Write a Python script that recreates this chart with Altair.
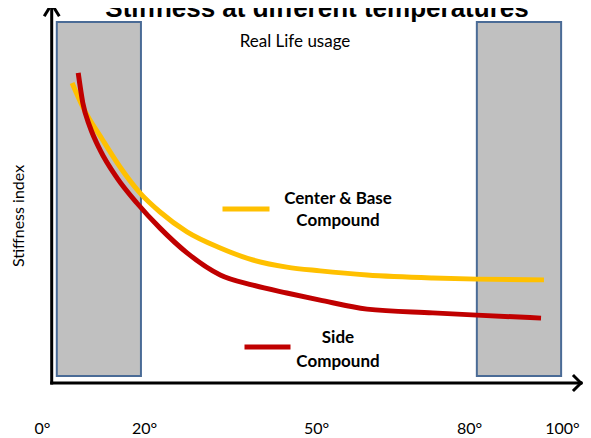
import altair as alt
import pandas as pd

# ---- data ----
tick_temps = [0, 20, 50, 80, 100]

zone_start = [2.9, 81.6]
zone_end = [19.4, 98.8]
zone_low = [1.9, 1.9]
zone_high = [96.3, 96.3]

center_temp = [5.9, 8.0, 11.9, 15.3, 19.2, 22.8, 27.5, 33.3, 39.0, 44.9, 50.8, 60.0, 72.9, 81.6, 95.3]
center_stiff = [80.0, 73.6, 64.8, 57.6, 50.7, 45.6, 40.3, 36.0, 32.8, 30.9, 29.9, 28.8, 28.0, 27.7, 27.5]

side_temp = [7.1, 8.0, 9.4, 11.4, 14.7, 18.6, 22.8, 27.5, 33.3, 39.0, 44.9, 50.8, 60.0, 72.9, 81.6, 94.7]
side_stiff = [82.7, 74.7, 68.3, 62.1, 54.7, 48.0, 41.3, 34.7, 28.8, 26.1, 24.0, 22.1, 19.7, 18.7, 18.1, 17.3]

title_text = "Stiffness at different temperatures"
usage_text = "Real Life usage"
y_title = "Stiffness index"
center_label = ["Center & Base", "Compound"]
side_label = ["Side", "Compound"]

YELLOW = "#FFC000"
RED = "#C00000"
FONT = "Lato"

W, H = 575, 375

xscale = alt.Scale(domain=tick_temps, range=[34, 136, 308, 461, 559], nice=False, zero=False)
yscale = alt.Scale(domain=[0, 100], range=[H, 0], nice=False)

zones = pd.DataFrame({"x": zone_start, "x2": zone_end, "y": zone_low, "y2": zone_high})
center = pd.DataFrame({"t": center_temp, "s": center_stiff})
side = pd.DataFrame({"t": side_temp, "s": side_stiff})
one = pd.DataFrame({"a": [0]})

rects = alt.Chart(zones).mark_rect(fill="#C0C0C0", stroke="#4a6b96", strokeWidth=2, clip=False).encode(
    x=alt.X("x:Q", scale=xscale, axis=alt.Axis(
        values=tick_temps, labelExpr="datum.value + '°'", domain=False, ticks=False, grid=False,
        labelFontSize=16, labelFont=FONT, labelColor="black", labelPadding=37,
        labelOffset=alt.ExprRef(expr="datum.value == 100 ? -5 : 0"),
        labelFlush=False, labelOverlap=False, title=None)),
    x2="x2:Q",
    y=alt.Y("y:Q", scale=yscale, axis=None),
    y2="y2:Q",
)

line_c = alt.Chart(center).mark_line(color=YELLOW, strokeWidth=5, interpolate="monotone", strokeCap="butt").encode(
    x=alt.X("t:Q", scale=xscale), y=alt.Y("s:Q", scale=yscale))
line_s = alt.Chart(side).mark_line(color=RED, strokeWidth=5, interpolate="monotone", strokeCap="butt").encode(
    x=alt.X("t:Q", scale=xscale), y=alt.Y("s:Q", scale=yscale))


def seg(x1, y1, x2, y2, color="black", w=3):
    return alt.Chart(one).mark_rule(color=color, strokeWidth=w, strokeCap="square").encode(
        x=alt.value(x1), y=alt.value(y1), x2=alt.value(x2), y2=alt.value(y2))


def txt(s, x, y, size=15, weight="normal", angle=0, font=FONT, baseline="alphabetic"):
    return alt.Chart(one).mark_text(text=s, fontSize=size, fontWeight=weight, font=font, angle=angle,
                                    align="center", baseline=baseline, color="black").encode(
        x=alt.value(x), y=alt.value(y))


axes = [
    seg(43.7, -4, 43.7, 375),
    seg(43.7, 375, 573, 375),
    seg(43.7, -4, 37, 7),
    seg(43.7, -4, 50.5, 7),
    seg(573, 375, 566, 368),
    seg(573, 375, 566, 382),
]

legend = [
    seg(217, 201, 259, 201, color=YELLOW, w=5),
    seg(239, 339, 280, 339, color=RED, w=5),
]

texts = [
    txt(title_text, 309, 9, size=26, weight="bold", font="Liberation Sans"),
    txt(usage_text, 287, 39, size=17),
    txt(y_title, 11, 208, size=16, angle=270, baseline="middle"),
    txt(center_label[0], 330, 196, size=17, weight="bold"),
    txt(center_label[1], 330, 218, size=17, weight="bold"),
    txt(side_label[0], 330, 335, size=17, weight="bold"),
    txt(side_label[1], 330, 359, size=17, weight="bold"),
]

chart = alt.layer(rects, line_c, line_s, *axes, *legend, *texts).properties(
    width=W, height=H,
    autosize=alt.AutoSizeParams(type="none"),
    padding={"left": 0, "top": 0, "right": 0, "bottom": 55},
).configure_view(stroke=None, fill="white")

chart.save("out.html", embed_options={"renderer": "svg", "actions": False})
